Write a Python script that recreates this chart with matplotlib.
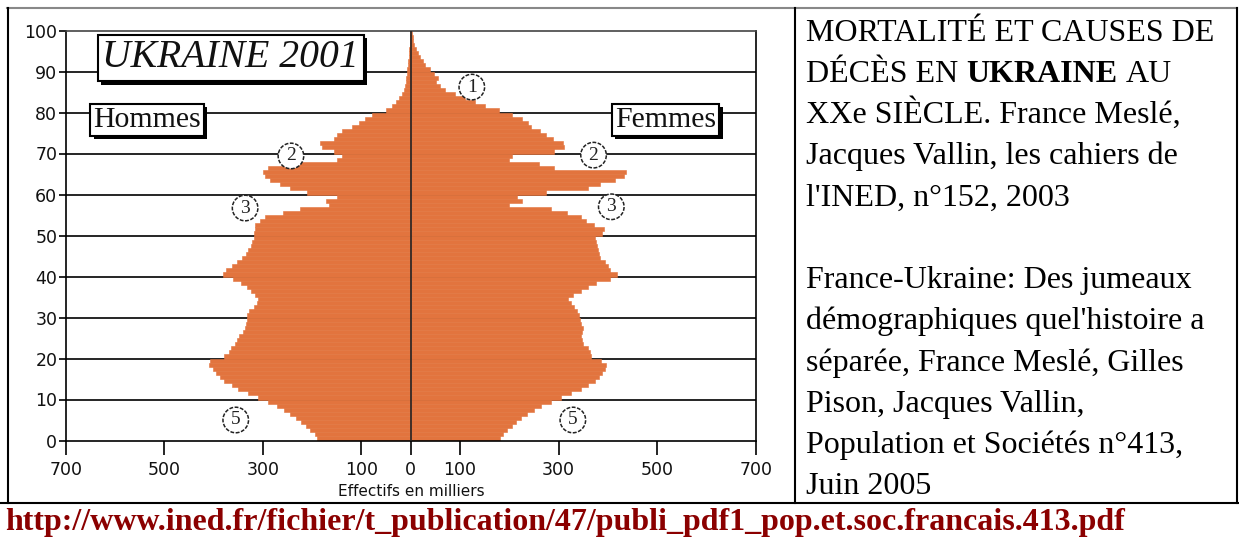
import matplotlib
matplotlib.use("Agg")
import matplotlib.pyplot as plt
import numpy as np
from matplotlib.lines import Line2D
from matplotlib.patches import Rectangle

# -----------------------------------------------------------------------
# Data: population of Ukraine in 2001 by single year of age (thousands)
# -----------------------------------------------------------------------
ages = np.arange(100)

hommes = [190, 195, 205, 212, 222, 232, 245, 258, 272, 290,
          310, 330, 350, 362, 378, 386, 395, 402, 410, 408,
          378, 368, 364, 356, 352, 348, 340, 336, 334, 332,
          333, 328, 318, 312, 310, 315, 325, 332, 345, 360,
          380, 375, 362, 352, 342, 335, 330, 325, 322, 318,
          318, 316, 315, 305, 296, 260, 225, 165, 172, 150,
          210, 245, 265, 285, 295, 300, 290, 262, 150, 140,
          155, 180, 185, 155, 150, 140, 120, 105, 92, 78,
          50, 38, 30, 24, 18, 13, 11, 10, 9, 8,
          7, 6, 5, 4, 3, 3, 2, 2, 1, 1]

femmes = [182, 188, 196, 205, 214, 223, 235, 250, 265, 285,
          305, 325, 345, 360, 373, 382, 389, 395, 396, 386,
          365, 363, 360, 350, 347, 345, 348, 350, 346, 344,
          342, 338, 332, 325, 320, 330, 345, 360, 375, 405,
          418, 405, 400, 395, 385, 382, 380, 378, 376, 374,
          388, 392, 372, 355, 345, 318, 285, 200, 225, 215,
          275, 360, 385, 415, 432, 436, 290, 260, 200, 205,
          290, 312, 310, 288, 275, 262, 245, 238, 225, 205,
          180, 150, 130, 110, 90, 70, 60, 52, 55, 48,
          40, 30, 25, 18, 14, 10, 7, 5, 4, 3]

xticks = [-700, -500, -300, -100, 0, 100, 300, 500, 700]
xticklabels = ["700", "500", "300", "100", "0", "100", "300", "500", "700"]
yticks = list(range(0, 101, 10))

# circled markers: label, value (thousands, men negative), age
marks = [("1", 124, 86.2), ("2", -243, 69.4), ("2", 371, 69.6),
         ("3", -336, 56.7), ("3", 407, 57.0), ("5", -355, 5.0), ("5", 329, 5.0)]

ref_lines = ["MORTALITÉ ET CAUSES DE",
             None,  # mixed regular / bold line, drawn separately
             "XXe SIÈCLE. France Meslé,",
             "Jacques Vallin, les cahiers de",
             "l'INED, n°152, 2003",
             "",
             "France-Ukraine: Des jumeaux",
             "démographiques quel'histoire a",
             "séparée, France Meslé, Gilles",
             "Pison, Jacques Vallin,",
             "Population et Sociétés n°413,",
             "Juin 2005"]
url = "http://www.ined.fr/fichier/t_publication/47/publi_pdf1_pop.et.soc.francais.413.pdf"

ORANGE = "#E2743E"
SERIF = "Liberation Serif"
W, H = 1239, 538

fig = plt.figure(figsize=(W / 100, H / 100), dpi=100)
fig.patch.set_facecolor("white")


def fx(x):
    return x / W


def fy(y):
    return 1 - y / H


# -----------------------------------------------------------------------
# Pyramid
# -----------------------------------------------------------------------
ax = fig.add_axes([fx(65.7), fy(440.5), 690 / W, 410 / H])
ax.set_xlim(-700, 700)
ax.set_ylim(0, 100)

for y in range(10, 100, 10):
    ax.axhline(y, color="black", lw=1.2, zorder=1)

ax.barh(ages, [-v for v in hommes], height=1, align="edge",
        color=ORANGE, edgecolor=ORANGE, lw=0.4, zorder=2)
ax.barh(ages, femmes, height=1, align="edge",
        color=ORANGE, edgecolor=ORANGE, lw=0.4, zorder=2)
ax.axvline(0, color="#222222", lw=1.2, zorder=3)

for side in ["left", "right", "bottom"]:
    ax.spines[side].set_linewidth(1.2)
    ax.spines[side].set_color("black")
ax.spines["top"].set_linewidth(1.2)
ax.spines["top"].set_color("#444444")

ax.set_xticks(xticks)
ax.set_xticklabels(xticklabels)
ax.set_yticks(yticks)
ax.tick_params(axis="x", direction="out", length=10, width=1.2, pad=5,
               labelsize=12.5, colors="black")
ax.tick_params(axis="y", direction="out", length=5, width=1.2, pad=1,
               labelsize=12.5, colors="black")
for lab in ax.get_xticklabels() + ax.get_yticklabels():
    lab.set_color("#111111")

fig.text(fx(411), fy(491), "Effectifs en milliers", ha="center", va="center",
         fontsize=11, color="#111111")

# boxed labels (drop shadow added below once the boxes are laid out)
boxes = [("UKRAINE 2001", -365, 93.3, 28.5, "italic", 0.12),
         ("Hommes", -535, 78.2, 21.5, "normal", 0.1),
         ("Femmes", 517, 78.2, 21.5, "normal", 0.1)]
box_texts = []
for txt, x, y, size, style, pad in boxes:
    t = ax.text(x, y, txt, ha="center", va="center", fontsize=size, style=style,
                family=SERIF, color="#111111", zorder=6,
                bbox=dict(boxstyle="square,pad=%s" % pad, fc="white", ec="black", lw=1.5))
    box_texts.append(t)

for num, x, y in marks:
    ax.text(x, y, num, ha="center", va="center", fontsize=14, family=SERIF,
            color="#222222", zorder=5,
            bbox=dict(boxstyle="circle,pad=0.22", fc="white", ec="#222222",
                      lw=1.1, ls=(0, (2.5, 1))))

# -----------------------------------------------------------------------
# Table frame
# -----------------------------------------------------------------------
frame = [((7, 7.5), (1237, 7.5), "#888888"),
         ((7.5, 7.5), (7.5, 503), "black"),
         ((795, 7.5), (795, 503), "black"),
         ((1236.5, 7.5), (1236.5, 503), "black"),
         ((0, 503), (1239, 503), "black")]
for (x0, y0), (x1, y1), c in frame:
    fig.add_artist(Line2D([fx(x0), fx(x1)], [fy(y0), fy(y1)],
                          transform=fig.transFigure, color=c, lw=1.5))

# -----------------------------------------------------------------------
# Reference text on the right
# -----------------------------------------------------------------------
FS = 23
x0 = 806
for k, line in enumerate(ref_lines):
    base = 40.7 + 41.25 * k
    if line:
        fig.text(fx(x0), fy(base), line, fontsize=FS, family=SERIF,
                 va="baseline", ha="left", color="black")

fig.canvas.draw()
renderer = fig.canvas.get_renderer()

# drop shadows: black rectangles offset 3.5 px right/down, behind the boxes
inv = ax.transData.inverted()
for t in box_texts:
    bb = t.get_bbox_patch().get_window_extent(renderer)
    (dx0, dy0), (dx1, dy1) = inv.transform([(bb.x0 + 3.5, bb.y0 - 3.5),
                                            (bb.x1 + 3.5, bb.y1 - 3.5)])
    ax.add_patch(Rectangle((dx0, dy0), dx1 - dx0, dy1 - dy0, fc="black",
                           ec="none", zorder=4, clip_on=False))

base = 40.7 + 41.25
t1 = fig.text(fx(x0), fy(base), "DÉCÈS EN", fontsize=FS, family=SERIF,
              va="baseline", color="black")
sp = fig.text(0, 0, "a a", fontsize=FS, family=SERIF)
sp2 = fig.text(0, 0, "aa", fontsize=FS, family=SERIF)
space = (sp.get_window_extent(renderer).width
         - sp2.get_window_extent(renderer).width)
sp.remove()
sp2.remove()
xa = t1.get_window_extent(renderer).x1 + space
t2 = fig.text(xa / W, fy(base), "UKRAINE", fontsize=FS, family=SERIF,
              weight="bold", va="baseline", color="black")
xb = t2.get_window_extent(renderer).x1 + space
fig.text(xb / W, fy(base), "AU", fontsize=FS, family=SERIF,
         va="baseline", color="black")

# link at the bottom
fig.text(fx(5), fy(530), url, fontsize=23, family=SERIF, weight="bold",
         color="#8B0000", va="baseline", ha="left")

fig.savefig("out.png", dpi=100, facecolor="white")
